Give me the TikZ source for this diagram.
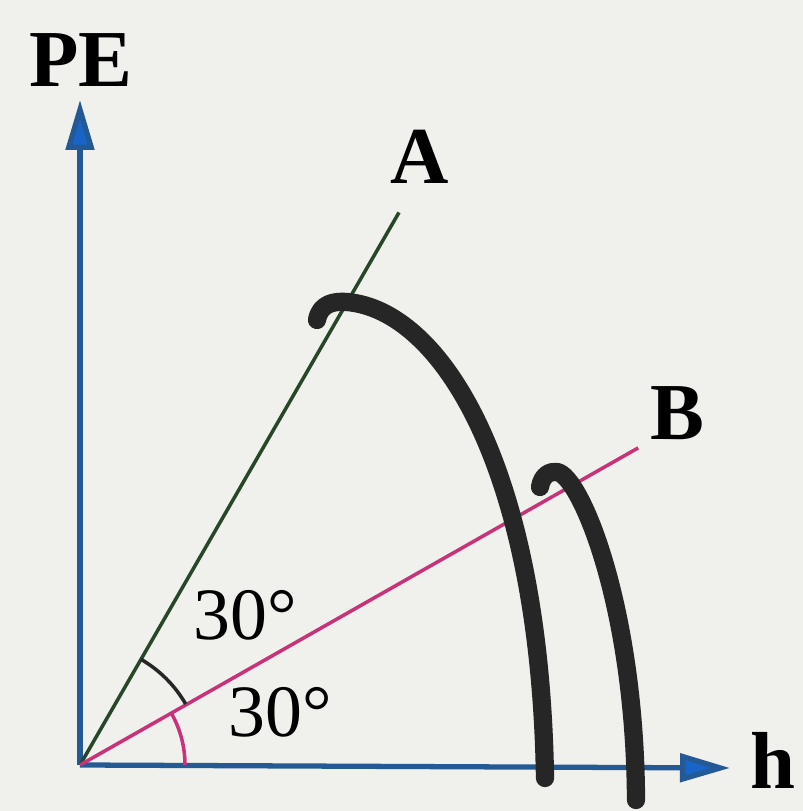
\documentclass[tikz,border=0pt]{standalone}
\usepackage{fontspec}
\setmainfont{Liberation Serif}
\usetikzlibrary{arrows.meta}
\definecolor{axisblue}{RGB}{35,90,150}
\definecolor{tipblue}{RGB}{25,100,200}
\definecolor{lineA}{RGB}{40,70,40}
\definecolor{lineB}{RGB}{200,50,120}
\definecolor{paper}{RGB}{240,240,236}
\tikzset{
  axisline/.style={draw=axisblue, line width=1.5pt,
    -{Triangle[length=0.5cm,width=0.28cm,fill=tipblue]}},
  axislabel/.style={font=\fontsize{23}{23}\selectfont\bfseries, inner sep=0pt},
  anglabel/.style={font=\fontsize{21}{21}\selectfont, inner sep=0pt},
  scribble/.style={draw=black!85, line width=5.2pt, line cap=round, line join=round}
}

\begin{document}
\begin{tikzpicture}
\fill[paper] (-0.80,-0.46) rectangle (7.23,7.65);
\useasboundingbox (-0.80,-0.46) rectangle (7.23,7.65);

% Axes
\coordinate (O) at (0,0);
\coordinate (ytip) at (0,6.65);
\coordinate (xtip) at (6.5,-0.03);
\draw[axisline] (O) -- (ytip);
\draw[axisline] (O) -- (xtip);
\node[axislabel] (PE) at (0.01,7.05) {PE};
\node[axislabel] (hlab) at (6.93,0.05) {h};

% Lines A and B
\coordinate (Aend) at (60:6.38);
\coordinate (Bend) at (29.6:6.42);
\draw[lineA, line width=1pt] (O) -- (Aend);
\draw[lineB, line width=1pt] (O) -- (Bend);
\node[axislabel] (Alab) at (3.40,6.08) {A};
\node[axislabel] (Blab) at (5.97,3.52) {B};

% Angle marks
\draw[black!85, line width=1pt] (30:1.22) arc (30:60:1.22);
\draw[lineB, line width=1pt] (0:1.05) arc (0:30:1.05);
\node[anglabel] (angup) at (1.65,1.50) {30\textdegree};
\node[anglabel] (anglow) at (2.00,0.53) {30\textdegree};

% Hand-drawn strokes
\draw[scribble] (2.37,4.45) .. controls (2.40,4.62) and (2.55,4.64) .. (2.67,4.63)
  .. controls (3.60,4.55) and (4.60,3.00) .. (4.65,-0.13);
\draw[scribble] (4.60,2.78) .. controls (4.62,2.90) and (4.70,2.94) .. (4.77,2.93)
  .. controls (5.00,2.90) and (5.55,1.60) .. (5.56,-0.35);
\end{tikzpicture}
\end{document}
